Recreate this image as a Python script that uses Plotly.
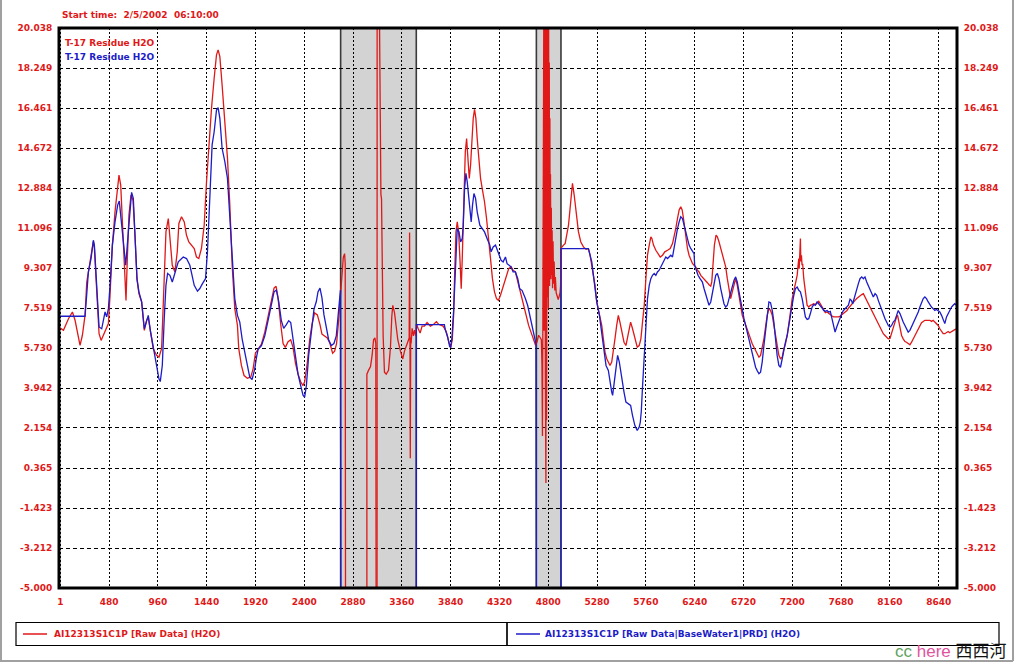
import plotly.graph_objects as go

# ---------------- data ----------------
start_label = "Start time:\u00a0 2/5/2002\u00a0 06:10:00"
inner_label = "T-17 Residue H2O"
series_names = ["AI12313S1C1P [Raw Data] (H2O)",
                "AI12313S1C1P [Raw Data|BaseWater1|PRD] (H2O)"]

y_ticks = [20.038, 18.249, 16.461, 14.672, 12.884, 11.096, 9.307, 7.519,
           5.730, 3.942, 2.154, 0.365, -1.423, -3.212, -5.000]
y_ticktext = ["20.038", "18.249", "16.461", "14.672", "12.884", "11.096", "9.307", "7.519",
              "5.730", "3.942", "2.154", "0.365", "-1.423", "-3.212", "-5.000"]
x_ticks = [1, 480, 960, 1440, 1920, 2400, 2880, 3360, 3840, 4320, 4800,
           5280, 5760, 6240, 6720, 7200, 7680, 8160, 8640]
x_ticktext = ["1", "480", "960", "1440", "1920", "2400", "2880", "3360", "3840", "4320", "4800",
              "5280", "5760", "6240", "6720", "7200", "7680", "8160", "8640"]
x_range = [-12, 8820]
y_range = [-5.0, 20.038]

# excluded (shaded) periods
shaded_periods = [(2758, 3502), (4683, 4925)]

red_pts = [
    (1, 6.62), (32, 6.52), (81, 7.04), (120, 7.34), (146, 6.97), (172, 6.30), (195, 5.85), (218, 6.30),
    (244, 7.19), (261, 8.68), (277, 9.13), (303, 9.73), (326, 10.50), (336, 10.20), (359, 8.09), (382, 6.37),
    (402, 6.07), (434, 6.44), (474, 6.82), (490, 8.09), (513, 10.33), (539, 11.82), (562, 13.01), (578, 13.46),
    (595, 13.01), (614, 11.22), (631, 10.03), (647, 7.86), (660, 9.73), (676, 11.67), (696, 12.57), (716, 12.34),
    (735, 10.77), (755, 8.80), (774, 8.16), (801, 7.79), (827, 6.52), (850, 6.97), (866, 7.10), (886, 6.52),
    (915, 5.70), (948, 5.40), (971, 5.32), (997, 5.70), (1020, 8.24), (1040, 10.92), (1063, 11.52), (1082, 10.62),
    (1102, 9.43), (1128, 9.13), (1151, 10.03), (1167, 11.30), (1193, 11.60), (1220, 11.37), (1242, 10.77),
    (1265, 10.47), (1291, 10.33), (1318, 10.18), (1340, 9.80), (1363, 9.73), (1389, 10.18), (1416, 11.22),
    (1439, 13.16), (1461, 14.81), (1488, 16.45), (1514, 17.79), (1537, 18.84), (1553, 19.06), (1570, 18.76),
    (1592, 17.50), (1619, 16.00), (1645, 14.21), (1668, 12.12), (1691, 9.43), (1717, 7.49), (1743, 6.74),
    (1756, 5.70), (1782, 4.95), (1808, 4.50), (1841, 4.38), (1874, 4.43), (1897, 4.80), (1920, 5.50),
    (1946, 5.67), (1979, 5.90), (2012, 6.44), (2044, 7.13), (2077, 7.81), (2103, 8.41), (2123, 8.49),
    (2142, 7.98), (2169, 6.78), (2192, 5.93), (2214, 5.76), (2241, 6.01), (2267, 6.10), (2290, 5.76),
    (2313, 5.07), (2339, 4.56), (2365, 4.22), (2388, 4.05), (2404, 4.22), (2430, 5.07), (2453, 6.10),
    (2476, 6.78), (2502, 7.30), (2529, 7.21), (2555, 6.78), (2574, 6.35), (2600, 6.27), (2627, 6.18),
    (2653, 5.93), (2679, 5.50), (2699, 5.59), (2718, 5.93), (2738, 6.95), (2756, 8.15), (2768, 9.18),
    (2784, 9.78), (2797, 9.95), (2803, 9.50), (2806, -6.0),
    (None, None),
    (3016, -6.0), (3016, 4.56), (3032, 4.73), (3052, 4.90), (3068, 5.42), (3082, 6.10), (3095, 6.18),
    (3104, 5.93), (3107, -6.0),
    (None, None),
    (3116, -6.0), (3117, 20.5), (3140, 20.5), (3144, 16.53), (3150, 16.19), (3154, 12.60), (3160, 12.40),
    (3163, 10.37), (3170, 10.20), (3176, 6.27), (3189, 4.65), (3206, 4.56), (3229, 4.73), (3248, 5.76),
    (3261, 7.13), (3271, 7.64), (3288, 7.30), (3304, 6.78), (3320, 6.10), (3346, 5.59), (3369, 5.24),
    (3386, 5.59), (3402, 5.84), (3419, 6.01), (3432, 6.18), (3436, 10.89), (3440, 6.00), (3443, 0.80),
    (3447, 6.20), (3451, 5.93), (3461, 6.61), (3474, 6.27), (3484, 6.53), (3497, 6.27), (3507, 6.78),
    (3520, 6.60), (3540, 6.40), (3559, 6.71), (3582, 6.71), (3608, 6.87), (3641, 6.71), (3673, 6.79),
    (3700, 6.91), (3722, 6.79), (3745, 6.74), (3765, 6.71), (3778, 6.62), (3797, 6.46), (3820, 6.04),
    (3840, 5.75), (3856, 6.10), (3869, 7.19), (3879, 8.98), (3892, 10.92), (3905, 11.37), (3918, 10.92),
    (3931, 9.73), (3944, 8.38), (3954, 9.73), (3971, 12.42), (3984, 14.51), (3997, 15.10), (4010, 14.36),
    (4023, 13.31), (4036, 13.91), (4049, 15.10), (4062, 16.00), (4075, 16.40), (4088, 16.00), (4101, 15.10),
    (4118, 14.06), (4134, 13.31), (4153, 12.79), (4173, 12.27), (4193, 11.52), (4212, 10.47), (4232, 9.73),
    (4251, 8.83), (4271, 8.24), (4291, 7.94), (4310, 7.86), (4330, 8.09), (4349, 8.38), (4369, 8.68),
    (4389, 8.98), (4411, 9.28), (4434, 9.36), (4454, 9.21), (4477, 9.13), (4493, 8.83), (4513, 8.46),
    (4532, 8.09), (4558, 7.64), (4584, 7.19), (4607, 6.74), (4630, 6.44), (4656, 6.14), (4676, 5.84),
    (4689, 6.00), (4705, 6.30), (4720, 6.20), (4732, 6.10), (4738, 5.00), (4743, 1.80), (4747, 7.00),
    (4750, 20.5), (4753, 10.0), (4756, 20.5), (4759, 6.5), (4762, 20.5), (4765, 9.0), (4768, 20.5),
    (4771, 4.5), (4774, 20.5), (4777, -0.3), (4780, 20.5), (4783, 2.5), (4786, 20.5), (4789, 6.0),
    (4792, 20.5), (4795, 8.0), (4798, 20.5), (4801, 7.5), (4804, 20.0), (4807, 9.0), (4810, 18.5),
    (4813, 8.5), (4816, 16.0), (4819, 9.5), (4822, 13.5), (4826, 8.8), (4830, 12.0), (4834, 9.0),
    (4838, 11.0), (4842, 8.4), (4847, 10.5), (4852, 8.6), (4858, 9.6), (4864, 8.3), (4870, 8.9),
    (4878, 8.2), (4888, 8.0), (4898, 7.9), (4908, 8.05), (4916, 8.2), (4921, 8.5),
    (4926, 10.20), (4950, 10.33), (4966, 10.40), (4999, 11.22), (5022, 12.42), (5038, 13.09), (5055, 12.57),
    (5074, 11.82), (5097, 10.92), (5120, 10.47), (5146, 10.25), (5172, 10.14), (5195, 10.17), (5211, 9.88),
    (5228, 9.43), (5244, 8.98), (5260, 8.53), (5277, 7.79), (5293, 7.49), (5309, 7.19), (5326, 6.74),
    (5342, 6.14), (5358, 5.55), (5375, 5.25), (5391, 5.10), (5407, 4.95), (5424, 5.10), (5440, 5.55),
    (5456, 6.14), (5473, 6.74), (5489, 7.19), (5505, 6.89), (5522, 6.44), (5545, 5.99), (5564, 5.84),
    (5587, 6.44), (5610, 6.89), (5629, 6.59), (5652, 6.14), (5675, 5.77), (5694, 5.84), (5711, 6.14),
    (5727, 6.89), (5744, 7.64), (5760, 8.83), (5776, 9.88), (5793, 10.33), (5809, 10.70), (5819, 10.63),
    (5835, 10.33), (5858, 10.10), (5881, 9.95), (5901, 9.80), (5924, 9.88), (5946, 10.03), (5973, 10.10),
    (5999, 10.18), (6022, 10.40), (6038, 10.70), (6054, 11.07), (6071, 11.52), (6087, 11.90), (6103, 12.05),
    (6117, 11.90), (6130, 11.52), (6143, 11.07), (6156, 10.55), (6169, 10.18), (6185, 9.88), (6201, 9.66),
    (6218, 9.51), (6234, 9.43), (6250, 9.36), (6267, 9.21), (6283, 9.13), (6300, 8.98), (6316, 8.91),
    (6332, 8.83), (6349, 8.76), (6365, 8.65), (6381, 8.56), (6398, 8.50), (6408, 8.68), (6421, 9.58),
    (6434, 10.33), (6450, 10.78), (6463, 10.70), (6479, 10.48), (6496, 10.18), (6512, 9.95), (6528, 9.66),
    (6545, 9.36), (6561, 8.83), (6578, 8.24), (6594, 7.94), (6610, 8.24), (6627, 8.61), (6643, 8.83),
    (6659, 8.53), (6676, 8.09), (6692, 7.49), (6708, 7.19), (6725, 6.97), (6741, 6.74), (6757, 6.52),
    (6774, 6.29), (6790, 6.14), (6806, 5.92), (6823, 5.77), (6839, 5.62), (6855, 5.47), (6872, 5.32),
    (6888, 5.40), (6904, 5.70), (6921, 6.14), (6937, 6.67), (6953, 7.19), (6970, 7.49), (6986, 7.41),
    (7003, 7.19), (7019, 6.74), (7035, 6.14), (7051, 5.70), (7068, 5.40), (7084, 5.25), (7101, 5.32),
    (7117, 5.70), (7133, 5.92), (7150, 6.29), (7166, 6.74), (7182, 7.34), (7199, 7.94), (7215, 8.24),
    (7231, 8.53), (7248, 8.98), (7257, 9.43), (7264, 9.73), (7268, 9.28), (7272, 9.80), (7280, 10.63),
    (7284, 9.60), (7290, 9.88), (7296, 9.43), (7302, 9.50), (7313, 8.83), (7329, 8.09), (7346, 7.64),
    (7362, 7.56), (7378, 7.64), (7395, 7.67), (7411, 7.71), (7427, 7.67), (7444, 7.76), (7460, 7.82),
    (7476, 7.71), (7493, 7.56), (7509, 7.41), (7525, 7.31), (7542, 7.34), (7558, 7.27), (7574, 7.19),
    (7591, 7.16), (7607, 7.12), (7623, 7.12), (7640, 7.13), (7656, 7.12), (7672, 7.16), (7689, 7.22),
    (7705, 7.27), (7722, 7.34), (7738, 7.41), (7754, 7.52), (7785, 7.71), (7801, 7.76), (7817, 7.86),
    (7834, 7.94), (7850, 8.01), (7866, 8.09), (7883, 8.12), (7899, 8.16), (7915, 8.01), (7932, 7.86),
    (7948, 7.71), (7964, 7.56), (7981, 7.41), (7997, 7.27), (8014, 7.12), (8030, 6.97), (8046, 6.82),
    (8063, 6.67), (8079, 6.52), (8095, 6.37), (8112, 6.29), (8128, 6.22), (8144, 6.14), (8161, 6.16),
    (8177, 6.37), (8193, 6.59), (8210, 6.89), (8226, 7.12), (8236, 7.19), (8249, 6.89), (8259, 6.59),
    (8275, 6.29), (8291, 6.14), (8308, 6.02), (8324, 5.99), (8340, 5.92), (8357, 5.87), (8373, 5.99),
    (8390, 6.14), (8406, 6.29), (8422, 6.44), (8439, 6.59), (8455, 6.74), (8471, 6.86), (8488, 6.92),
    (8504, 6.97), (8520, 6.97), (8537, 6.97), (8553, 6.97), (8569, 6.92), (8586, 6.97), (8602, 6.89),
    (8618, 6.82), (8635, 6.74), (8651, 6.59), (8668, 6.44), (8684, 6.37), (8700, 6.37), (8717, 6.44),
    (8733, 6.47), (8749, 6.41), (8766, 6.47), (8782, 6.52), (8798, 6.55), (8815, 6.59),
]

blue_pts = [
    (1, 7.15), (244, 7.15), (262, 8.20), (277, 9.13), (303, 9.73), (326, 10.55), (336, 10.33), (359, 8.24),
    (382, 6.67), (408, 6.59), (441, 7.34), (457, 7.12), (474, 7.49), (490, 8.53), (513, 10.33), (539, 11.37),
    (565, 12.12), (581, 12.30), (604, 11.22), (627, 10.03), (644, 9.43), (670, 10.92), (689, 12.12),
    (702, 12.69), (719, 12.42), (735, 10.92), (755, 8.83), (774, 8.24), (801, 7.79), (827, 6.59), (850, 6.97),
    (866, 7.19), (886, 6.52), (915, 5.77), (948, 4.95), (971, 4.35), (984, 4.23), (1004, 4.95), (1023, 7.04),
    (1040, 8.53), (1056, 9.06), (1079, 8.98), (1102, 8.68), (1128, 9.13), (1161, 9.58), (1210, 9.80),
    (1242, 9.73), (1275, 9.43), (1318, 8.53), (1350, 8.27), (1373, 8.39), (1399, 8.61), (1429, 8.83),
    (1448, 10.03), (1471, 12.57), (1494, 14.81), (1514, 15.40), (1537, 16.37), (1553, 16.48), (1570, 16.00),
    (1592, 14.66), (1619, 14.06), (1645, 13.31), (1668, 11.52), (1691, 9.73), (1717, 7.94), (1743, 7.19),
    (1766, 6.89), (1789, 6.14), (1815, 5.55), (1841, 4.80), (1864, 4.43), (1887, 4.32), (1913, 4.80),
    (1930, 5.30), (1946, 5.67), (1979, 5.84), (2012, 6.27), (2044, 6.95), (2077, 7.64), (2103, 8.24),
    (2126, 8.32), (2149, 7.81), (2175, 6.95), (2198, 6.61), (2224, 6.78), (2247, 6.95), (2267, 6.87),
    (2290, 6.10), (2313, 5.42), (2339, 4.56), (2365, 4.05), (2388, 3.62), (2404, 3.53), (2421, 4.05),
    (2444, 5.42), (2470, 6.61), (2496, 7.47), (2519, 7.81), (2535, 8.24), (2555, 8.41), (2574, 7.98),
    (2594, 7.21), (2617, 6.61), (2640, 6.10), (2666, 5.84), (2692, 5.93), (2715, 6.27), (2738, 7.30),
    (2756, 8.32), (2760, -6.0),
    (None, None),
    (3502, -6.0), (3502, 6.78), (3778, 6.78), (3788, 6.54), (3811, 6.21), (3830, 5.80), (3840, 5.75),
    (3853, 6.21), (3869, 7.37), (3879, 8.53), (3892, 10.18), (3905, 11.07), (3922, 10.92), (3938, 10.47),
    (3954, 10.62), (3964, 11.22), (3977, 12.86), (3990, 13.54), (4003, 13.16), (4016, 12.57), (4029, 11.82),
    (4042, 11.37), (4055, 12.12), (4069, 12.64), (4085, 12.42), (4101, 11.82), (4127, 11.22), (4150, 11.07),
    (4173, 10.92), (4199, 10.62), (4225, 10.33), (4238, 10.03), (4258, 10.25), (4281, 10.33), (4297, 10.10),
    (4317, 9.88), (4336, 9.65), (4356, 9.58), (4379, 9.80), (4395, 9.50), (4415, 9.43), (4434, 9.36),
    (4454, 9.13), (4477, 9.13), (4500, 8.83), (4519, 8.38), (4542, 8.31), (4558, 8.16), (4575, 7.94),
    (4597, 7.64), (4617, 7.19), (4640, 6.74), (4663, 6.30), (4679, 5.92), (4683, -6.0),
    (None, None),
    (4925, -6.0), (4925, 10.17), (5195, 10.17), (5211, 9.88), (5228, 9.58), (5244, 8.98), (5260, 8.38),
    (5277, 7.79), (5303, 7.19), (5326, 6.44), (5349, 5.55), (5368, 4.95), (5391, 4.73), (5407, 4.20),
    (5424, 3.76), (5433, 3.61), (5446, 4.05), (5466, 4.95), (5482, 5.40), (5499, 5.10), (5522, 4.35),
    (5545, 3.76), (5564, 3.31), (5587, 3.23), (5610, 3.16), (5629, 2.71), (5652, 2.26), (5675, 2.04),
    (5694, 2.19), (5705, 2.40), (5715, 2.90), (5727, 4.00), (5742, 5.40), (5760, 7.00), (5776, 7.94),
    (5793, 8.53), (5809, 8.83), (5825, 8.98), (5842, 9.06), (5858, 8.98), (5874, 9.13), (5891, 9.21),
    (5907, 9.36), (5924, 9.51), (5940, 9.66), (5956, 9.80), (5973, 9.73), (5989, 9.80), (6005, 9.88),
    (6022, 9.80), (6038, 10.25), (6054, 10.70), (6071, 11.07), (6087, 11.37), (6103, 11.60), (6120, 11.52),
    (6136, 11.22), (6152, 10.85), (6169, 10.55), (6185, 10.33), (6201, 10.18), (6218, 10.03), (6234, 9.95),
    (6240, 9.43), (6257, 9.21), (6273, 8.98), (6293, 8.83), (6316, 8.68), (6332, 8.39), (6349, 8.09),
    (6365, 7.79), (6381, 7.64), (6398, 7.79), (6414, 8.24), (6430, 8.68), (6447, 8.98), (6463, 9.06),
    (6479, 8.83), (6496, 8.39), (6512, 8.01), (6528, 7.71), (6545, 7.56), (6561, 7.64), (6578, 7.94),
    (6594, 8.24), (6610, 8.53), (6627, 8.76), (6643, 8.91), (6659, 8.68), (6676, 8.24), (6692, 7.79),
    (6708, 7.37), (6725, 7.04), (6741, 6.74), (6757, 6.44), (6774, 6.14), (6790, 5.85), (6806, 5.55),
    (6823, 5.17), (6839, 4.87), (6855, 4.72), (6872, 4.58), (6888, 4.65), (6904, 5.10), (6921, 5.85),
    (6937, 6.59), (6953, 7.34), (6970, 7.79), (6986, 7.76), (7003, 7.41), (7019, 6.89), (7035, 6.14),
    (7051, 5.40), (7068, 4.95), (7084, 4.87), (7101, 5.25), (7117, 5.70), (7133, 5.99), (7150, 6.29),
    (7166, 6.74), (7182, 7.34), (7199, 7.79), (7215, 8.09), (7231, 8.39), (7248, 8.46), (7264, 8.31),
    (7280, 8.24), (7297, 7.94), (7313, 7.49), (7329, 7.12), (7346, 7.01), (7362, 7.04), (7378, 7.27),
    (7395, 7.56), (7411, 7.67), (7427, 7.64), (7444, 7.79), (7460, 7.71), (7476, 7.64), (7493, 7.52),
    (7509, 7.41), (7525, 7.37), (7542, 7.41), (7558, 7.34), (7574, 7.37), (7588, 7.04), (7605, 6.74),
    (7621, 6.44), (7637, 6.67), (7654, 6.89), (7670, 7.12), (7687, 7.27), (7703, 7.41), (7719, 7.49),
    (7736, 7.56), (7752, 7.64), (7768, 7.91), (7781, 7.86), (7794, 7.71), (7807, 7.94), (7821, 8.16),
    (7834, 8.39), (7850, 8.61), (7866, 8.83), (7883, 8.91), (7899, 8.83), (7915, 8.91), (7932, 8.68),
    (7948, 8.53), (7964, 8.39), (7981, 8.16), (7997, 8.01), (8014, 8.16), (8030, 8.09), (8046, 7.86),
    (8063, 7.64), (8079, 7.41), (8095, 7.27), (8112, 7.04), (8128, 6.89), (8144, 6.74), (8161, 6.67),
    (8177, 6.74), (8193, 6.89), (8210, 6.97), (8226, 7.19), (8242, 7.41), (8259, 7.27), (8275, 7.04),
    (8291, 6.89), (8308, 6.74), (8324, 6.59), (8340, 6.44), (8357, 6.52), (8373, 6.67), (8390, 6.82),
    (8406, 7.04), (8422, 7.19), (8439, 7.34), (8455, 7.56), (8471, 7.79), (8488, 7.94), (8504, 8.01),
    (8520, 7.94), (8537, 7.79), (8553, 7.64), (8569, 7.56), (8586, 7.49), (8602, 7.41), (8618, 7.45),
    (8635, 7.41), (8651, 7.34), (8668, 7.19), (8684, 6.97), (8700, 6.82), (8717, 7.12), (8733, 7.27),
    (8749, 7.41), (8766, 7.56), (8782, 7.64), (8798, 7.71), (8815, 7.64),
]

# ---------------- styling ----------------
RED = "#e01818"
BLUE = "#1c1cc8"
FONT = "DejaVu Sans"
W, H = 1017, 663
ML, MR, MT, MB = 59, 60, 28, 75
PW, PH = W - ML - MR, H - MT - MB


def pxx(x):
    return (x - ML) / PW


def pxy(y):
    return (H - MB - y) / PH


red_x = [p[0] for p in red_pts]
red_y = [p[1] for p in red_pts]
blue_x = [p[0] for p in blue_pts]
blue_y = [p[1] for p in blue_pts]

fig = go.Figure()
fig.add_trace(go.Scatter(x=red_x, y=red_y, mode="lines", line=dict(color=RED, width=1.3),
                         name=series_names[0], showlegend=False, hoverinfo="skip"))
fig.add_trace(go.Scatter(x=blue_x, y=blue_y, mode="lines", line=dict(color=BLUE, width=1.3),
                         name=series_names[1], showlegend=False, hoverinfo="skip"))
# anchor trace for the right-hand axis
fig.add_trace(go.Scatter(x=[None], y=[None], yaxis="y2", showlegend=False, hoverinfo="skip"))

shapes = []
for x0, x1 in shaded_periods:
    shapes.append(dict(type="rect", xref="x", yref="y", x0=x0, x1=x1, y0=y_range[0], y1=y_range[1],
                       fillcolor="#d3d3d3", line=dict(color="#3a3a3a", width=1.6), layer="below"))
# plot frame
shapes.append(dict(type="rect", xref="paper", yref="paper", x0=0, x1=1, y0=0, y1=1,
                   line=dict(color="black", width=3), layer="above"))
# legend boxes at bottom
shapes.append(dict(type="rect", xref="paper", yref="paper", x0=pxx(16), x1=pxx(507),
                   y0=pxy(645.5), y1=pxy(622.5), line=dict(color="black", width=1.2)))
shapes.append(dict(type="rect", xref="paper", yref="paper", x0=pxx(507), x1=pxx(999),
                   y0=pxy(645.5), y1=pxy(622.5), line=dict(color="black", width=1.2)))
shapes.append(dict(type="line", xref="paper", yref="paper", x0=pxx(23), x1=pxx(47),
                   y0=pxy(634), y1=pxy(634), line=dict(color=RED, width=1.5)))
shapes.append(dict(type="line", xref="paper", yref="paper", x0=pxx(516), x1=pxx(540),
                   y0=pxy(634), y1=pxy(634), line=dict(color=BLUE, width=1.5)))
# outer grey frame
shapes.append(dict(type="line", xref="paper", yref="paper", x0=pxx(1), x1=pxx(1),
                   y0=pxy(0), y1=pxy(661), line=dict(color="#a0a0a0", width=2)))
shapes.append(dict(type="line", xref="paper", yref="paper", x0=pxx(1013), x1=pxx(1013),
                   y0=pxy(0), y1=pxy(661), line=dict(color="#a0a0a0", width=2)))
shapes.append(dict(type="line", xref="paper", yref="paper", x0=pxx(0), x1=pxx(1013),
                   y0=pxy(661), y1=pxy(661), line=dict(color="#a0a0a0", width=2)))

bold = dict(family=FONT, size=9, weight="bold")
annotations = [
    dict(text=start_label, xref="paper", yref="paper", x=pxx(60), y=pxy(15),
         xanchor="left", yanchor="middle", showarrow=False, font=dict(**bold, color=RED)),
    dict(text=inner_label, xref="paper", yref="paper", x=pxx(63), y=pxy(42.5),
         xanchor="left", yanchor="middle", showarrow=False, font=dict(**bold, color=RED)),
    dict(text=inner_label, xref="paper", yref="paper", x=pxx(63), y=pxy(57),
         xanchor="left", yanchor="middle", showarrow=False, font=dict(**bold, color=BLUE)),
    dict(text=series_names[0], xref="paper", yref="paper", x=pxx(52), y=pxy(634),
         xanchor="left", yanchor="middle", showarrow=False, font=dict(**bold, color=RED)),
    dict(text=series_names[1], xref="paper", yref="paper", x=pxx(543), y=pxy(634),
         xanchor="left", yanchor="middle", showarrow=False, font=dict(**bold, color=BLUE)),
    dict(text='<span style="color:#5fa35f">cc</span> <span style="color:#e2549e">here</span> '
              '<span style="color:#111111">西西河</span>',
         xref="paper", yref="paper", x=pxx(893), y=pxy(651), xanchor="left", yanchor="middle",
         showarrow=False, font=dict(family="Liberation Sans, Noto Sans CJK SC", size=17)),
]

tickfont = dict(**bold, color=RED)
fig.update_layout(
    width=W, height=H, margin=dict(l=ML, r=MR, t=MT, b=MB),
    paper_bgcolor="white", plot_bgcolor="white",
    shapes=shapes, annotations=annotations, showlegend=False,
    xaxis=dict(range=x_range, tickvals=x_ticks, ticktext=x_ticktext, tickfont=tickfont,
               showgrid=True, gridcolor="black", gridwidth=1, griddash="2px,2px",
               zeroline=False, showline=False, ticks="outside", ticklen=5,
               tickcolor="rgba(0,0,0,0)", fixedrange=True),
    yaxis=dict(range=y_range, tickvals=y_ticks, ticktext=y_ticktext, tickfont=tickfont,
               showgrid=True, gridcolor="black", gridwidth=1, griddash="4px,3px",
               zeroline=False, showline=False, ticks="outside", ticklen=4,
               tickcolor="rgba(0,0,0,0)", fixedrange=True),
    yaxis2=dict(range=y_range, tickvals=y_ticks, ticktext=y_ticktext, tickfont=tickfont,
                overlaying="y", side="right", showgrid=False, zeroline=False, showline=False,
                ticks="outside", ticklen=4, tickcolor="rgba(0,0,0,0)", fixedrange=True),
)

fig.write_html("out.html")
